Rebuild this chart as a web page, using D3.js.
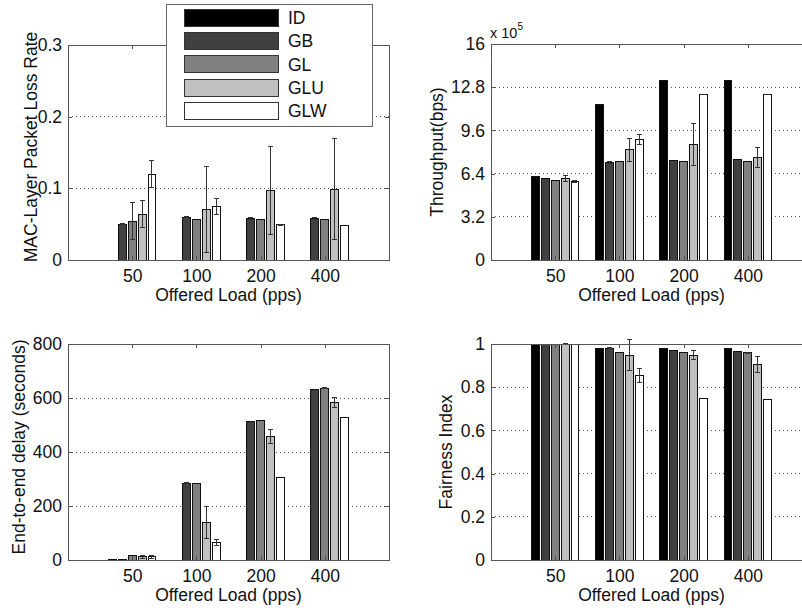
<!DOCTYPE html>
<html>
<head>
<meta charset="utf-8">
<script src="https://cdn.jsdelivr.net/npm/d3@7"></script>
<style>
  body { margin: 0; background: #fff; }
  svg { display: block; }
  text { font-family: Arial, "Liberation Sans", sans-serif; fill: #111; }
  line, rect { shape-rendering: crispEdges; }
</style>
</head>
<body>
<div id="chart"></div>
<script>
// categories
var loads = ["50", "100", "200", "400"];
var schemes = ["ID", "GB", "GL", "GLU", "GLW"];
var fills = ["#000000", "#404040", "#808080", "#c0c0c0", "#ffffff"];

// rows = offered load, columns = ID, GB, GL, GLU, GLW
var lossMean = [
    [0, 0.050, 0.054, 0.064, 0.120],
    [0, 0.060, 0.056, 0.070, 0.075],
    [0, 0.058, 0.057, 0.097, 0.049],
    [0, 0.058, 0.056, 0.099, 0.048]
];
var lossErr = [
    [0, 0.001, 0.026, 0.019, 0.019],
    [0, 0.001, 0, 0.060, 0.011],
    [0, 0.001, 0, 0.062, 0.001],
    [0, 0.001, 0, 0.070, 0]
];

// throughput, x 10^5 bps
var thrMean = [
    [6.18, 6.01, 5.86, 6.06, 5.79],
    [11.5, 7.22, 7.27, 8.16, 8.95],
    [13.33, 7.34, 7.29, 8.56, 12.26],
    [13.33, 7.42, 7.29, 7.59, 12.26]
];
var thrErr = [
    [0, 0, 0, 0.22, 0.08],
    [0, 0.05, 0, 0.85, 0.37],
    [0, 0, 0, 1.53, 0.03],
    [0, 0, 0, 0.77, 0.03]
];

var delayMean = [
    [1, 2, 17, 12, 12],
    [0, 284, 284, 138, 65],
    [0, 512, 518, 459, 305],
    [0, 632, 636, 583, 527]
];
var delayErr = [
    [0, 0, 0, 5, 6],
    [0, 2, 0, 60, 12],
    [0, 0, 0, 26, 0],
    [0, 0, 2, 18, 0]
];

var fairMean = [
    [1, 1, 1, 1, 1],
    [0.98, 0.98, 0.96, 0.949, 0.853],
    [0.98, 0.969, 0.962, 0.949, 0.747],
    [0.98, 0.966, 0.96, 0.906, 0.745]
];
var fairErr = [
    [0, 0, 0, 0.003, 0],
    [0, 0.003, 0, 0.07, 0.032],
    [0, 0, 0, 0.023, 0],
    [0, 0, 0.002, 0.037, 0]
];

var lossTicks = [0, 0.1, 0.2, 0.3];
var thrTicks = [0, 3.2, 6.4, 9.6, 12.8, 16];
var delayTicks = [0, 200, 400, 600, 800];
var fairTicks = [0, 0.2, 0.4, 0.6, 0.8, 1];

var W = 802, H = 611, FS = 17.5;

var svg = d3.select("#chart").append("svg")
    .attr("width", W)
    .attr("height", H);

svg.append("rect").attr("width", W).attr("height", H).attr("fill", "#fff");

// panel layouts (matlab subplot positions)
var panels = [
    { mean: lossMean, err: lossErr, ticks: lossTicks, fmt: d3.format(".1f"),
      x0: 68, x1: 389, top: 45, bottom: 260, label: "MAC-Layer Packet Loss Rate", labelX: 37, labelY: 147 },
    { mean: thrMean, err: thrErr, ticks: thrTicks, fmt: function (d) { return d3.format("")(d); },
      x0: 491, x1: 812, top: 44, bottom: 260, label: "Throughput(bps)", labelX: 443, labelY: 152 },
    { mean: delayMean, err: delayErr, ticks: delayTicks, fmt: d3.format("d"),
      x0: 68, x1: 389, top: 344, bottom: 560, label: "End-to-end delay (seconds)", labelX: 25, labelY: 447 },
    { mean: fairMean, err: fairErr, ticks: fairTicks, fmt: function (d) { return d3.format("")(d); },
      x0: 491, x1: 812, top: 344, bottom: 560, label: "Fairness Index", labelX: 452, labelY: 452 }
];

panels.forEach(function (p) {
    var yMax = d3.max(p.ticks);
    var x = d3.scaleLinear().domain([0, loads.length + 1]).range([p.x0, p.x1]);
    var y = d3.scaleLinear().domain([0, yMax]).range([p.bottom, p.top]);

    // bars inside a group, matlab style: group width n/(n+1.5), bar width 0.8
    var groupW = schemes.length / (schemes.length + 1.5);
    var inner = d3.scaleBand().domain(schemes)
        .range([-groupW / 2, groupW / 2])
        .paddingInner(0.2).paddingOuter(0.1);

    var g = svg.append("g");

    // grid
    g.selectAll(".grid")
        .data(p.ticks.filter(function (t) { return t > 0; }))
        .enter().append("line")
        .attr("x1", p.x0).attr("x2", p.x1)
        .attr("y1", function (d) { return y(d); })
        .attr("y2", function (d) { return y(d); })
        .attr("stroke", "#555")
        .attr("stroke-width", 1)
        .attr("stroke-dasharray", "1,3");

    // bars
    var groups = g.selectAll(".grp")
        .data(loads)
        .enter().append("g")
        .attr("class", "grp");

    groups.each(function (ld, li) {
        var row = p.mean[li];
        var erow = p.err[li];
        var gg = d3.select(this);
        schemes.forEach(function (s, si) {
            var v = row[si];
            if (v <= 0) return;
            var bx = x(li + 1 + inner(s));
            var bw = x(inner.bandwidth()) - x(0);
            gg.append("rect")
                .attr("x", bx)
                .attr("y", y(v))
                .attr("width", bw)
                .attr("height", y(0) - y(v))
                .attr("fill", fills[si])
                .attr("stroke", "#111")
                .attr("stroke-width", 1);
            var e = erow[si];
            if (e > 0) {
                var cx = bx + bw / 2;
                gg.append("line")
                    .attr("x1", cx).attr("x2", cx)
                    .attr("y1", y(v + e)).attr("y2", y(Math.max(v - e, 0)))
                    .attr("stroke", "#333").attr("stroke-width", 1);
                [v + e, v - e].forEach(function (c) {
                    if (c < 0) return;
                    gg.append("line")
                        .attr("x1", cx - 2.5).attr("x2", cx + 2.5)
                        .attr("y1", y(c)).attr("y2", y(c))
                        .attr("stroke", "#333").attr("stroke-width", 1);
                });
            }
        });
    });

    // box
    g.append("rect")
        .attr("x", p.x0).attr("y", p.top)
        .attr("width", p.x1 - p.x0).attr("height", p.bottom - p.top)
        .attr("fill", "none")
        .attr("stroke", "#555")
        .attr("stroke-width", 1);

    // axes, ticks pointing inward
    var cats = d3.range(1, loads.length + 1);
    var xAxis = g.append("g")
        .attr("transform", "translate(0," + p.bottom + ")")
        .call(d3.axisBottom(x).tickValues(cats)
            .tickFormat(function (d) { return loads[d - 1]; })
            .tickSizeInner(-4).tickSizeOuter(0).tickPadding(10));
    var xTop = g.append("g")
        .attr("transform", "translate(0," + p.top + ")")
        .call(d3.axisTop(x).tickValues(cats).tickFormat("")
            .tickSizeInner(-4).tickSizeOuter(0));
    var yAxis = g.append("g")
        .attr("transform", "translate(" + p.x0 + ",0)")
        .call(d3.axisLeft(y).tickValues(p.ticks).tickFormat(p.fmt)
            .tickSizeInner(-4).tickSizeOuter(0).tickPadding(6));
    var yRight = g.append("g")
        .attr("transform", "translate(" + p.x1 + ",0)")
        .call(d3.axisRight(y).tickValues(p.ticks).tickFormat("")
            .tickSizeInner(-4).tickSizeOuter(0));

    [xAxis, xTop, yAxis, yRight].forEach(function (a) {
        a.select(".domain").remove();
        a.selectAll(".tick line").attr("stroke", "#555");
        a.selectAll("text")
            .attr("font-size", FS)
            .attr("font-family", "Arial, 'Liberation Sans', sans-serif")
            .attr("fill", "#111");
    });
    yAxis.selectAll("text").text(function (d) { return d === 0 ? "0" : p.fmt(d); });

    // axis titles
    g.append("text")
        .attr("x", (p.x0 + p.x1) / 2)
        .attr("y", p.bottom + 41)
        .attr("text-anchor", "middle")
        .attr("font-size", FS)
        .text("Offered Load (pps)");

    g.append("text")
        .attr("transform", "translate(" + p.labelX + "," + p.labelY + ") rotate(-90)")
        .attr("text-anchor", "middle")
        .attr("font-size", FS)
        .text(p.label);
});

// exponent for throughput axis
var expo = svg.append("text")
    .attr("x", 490)
    .attr("y", 38)
    .attr("font-size", 14.5);
expo.append("tspan").text("x 10");
expo.append("tspan").attr("font-size", 10).attr("dy", -8).text("5");

// legend
var legend = svg.append("g");
legend.append("rect")
    .attr("x", 166).attr("y", 4)
    .attr("width", 206).attr("height", 122)
    .attr("fill", "#fff")
    .attr("stroke", "#666")
    .attr("stroke-width", 1);

var items = legend.selectAll(".item")
    .data(schemes)
    .enter().append("g")
    .attr("transform", function (d, i) { return "translate(0," + (17.7 + i * 23.3) + ")"; });

items.append("rect")
    .attr("x", 184).attr("y", -8.5)
    .attr("width", 94).attr("height", 17)
    .attr("fill", function (d, i) { return fills[i]; })
    .attr("stroke", "#333")
    .attr("stroke-width", 1);

items.append("text")
    .attr("x", 288)
    .attr("y", 6.3)
    .attr("font-size", FS)
    .text(function (d) { return d; });
</script>
</body>
</html>
